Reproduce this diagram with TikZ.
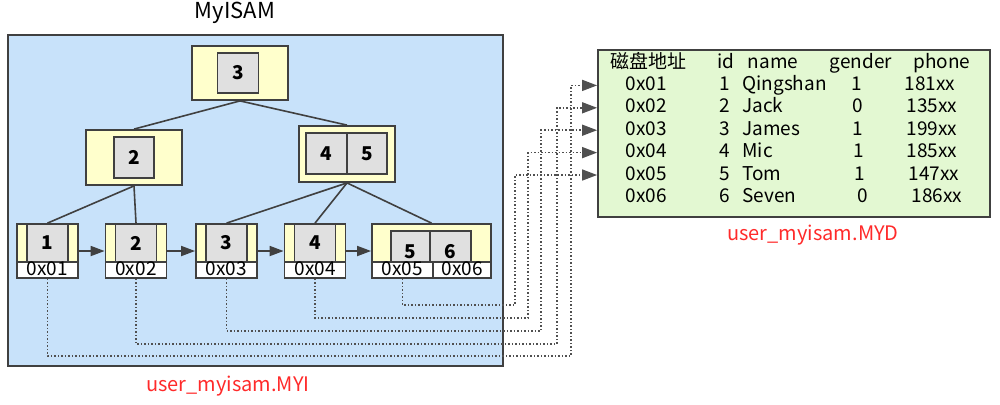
\documentclass[tikz,border=0pt]{standalone}
\usepackage{fontspec}
\setmainfont{Noto Sans CJK SC}
\usetikzlibrary{arrows.meta}
\definecolor{idxblue}{HTML}{C8E2FA}
\definecolor{pageyellow}{HTML}{FFFFCC}
\definecolor{keygray}{HTML}{E0E0E0}
\definecolor{mydgreen}{HTML}{E3F8D2}
\definecolor{edgegray}{HTML}{404040}
\definecolor{ptrgray}{HTML}{505050}
\definecolor{filered}{HTML}{FF2A2A}
\tikzset{
  frame/.style={draw=edgegray, line width=0.9pt, inner sep=0pt},
  page/.style={frame, fill=pageyellow},
  key/.style={frame, fill=keygray, font=\bfseries\fontsize{9.5}{10}\selectfont},
  addr/.style={frame, fill=white, font=\fontsize{9.5}{9}\selectfont, text height=6pt, text depth=1pt},
  cell/.style={inner sep=0pt, font=\fontsize{9.5}{10}\selectfont, text height=7pt, text depth=2pt},
  link/.style={draw=edgegray, line width=0.8pt},
  next/.style={draw=edgegray, line width=0.9pt, -{Triangle[length=7pt,width=5pt]}},
  ptr/.style={draw=ptrgray, line width=0.75pt, dash pattern=on 0.75pt off 1pt,
    -{Triangle[length=7.5pt,width=5.5pt]}},
  filename/.style={text=filered, font=\fontsize{10}{12}\selectfont}
}
\begin{document}
\begin{tikzpicture}[x=0.5pt,y=-0.5pt]
  \useasboundingbox (0,0) rectangle (1000,404);
  \node[font=\fontsize{11}{12}\selectfont] (title) at (235,13) {MyISAM};
  \node[frame, line width=1.1pt, fill=idxblue, minimum width=247.5pt, minimum height=165.5pt] (myi) at (255.5,200.5) {};
  \node[page, minimum width=48pt, minimum height=27pt] (p3) at (240,73) {};
  \node[key, minimum width=20.5pt, minimum height=20pt] (k3) at (238,73) {3};
  \node[page, minimum width=48pt, minimum height=27.5pt] (p2) at (134,157.5) {};
  \node[key, minimum width=20pt, minimum height=20.5pt] (k2) at (134,157.5) {2};
  \node[page, minimum width=48pt, minimum height=28pt] (p45) at (347,154) {};
  \node[key, minimum width=20.5pt, minimum height=20.5pt] (k4) at (326.5,153.5) {4};
  \node[key, minimum width=20pt, minimum height=20.5pt] (k5) at (367,153.5) {5};
  \foreach \n/\x in {1/47.5, 2/136, 3/226.5, 4/315} {
    \node[page, minimum width=30.5pt, minimum height=27pt] (leaf\n) at (\x,251) {};
    \node[key, minimum width=20.5pt, minimum height=19pt] (lk\n) at (\x,243) {\n};
    \node[addr, minimum width=30.5pt, minimum height=8pt] (la\n) at (\x,270) {0x0\n};
  }
  \node[page, minimum width=59.5pt, minimum height=27pt] (leaf5) at (431.5,251) {};
  \node[key, minimum width=19.5pt, minimum height=15.5pt, text height=12pt, text depth=0pt] (lk5) at (410.5,246.5) {5};
  \node[key, minimum width=20.5pt, minimum height=15.5pt, text height=12pt, text depth=0pt] (lk6) at (450.5,246.5) {6};
  \node[addr, minimum width=30.5pt, minimum height=8pt] (la5) at (402.5,270) {0x05};
  \node[addr, minimum width=29pt, minimum height=8pt] (la6) at (462,270) {0x06};
  \begin{scope}[link]
    \draw (p3.south) to (p2.north);
    \draw (p3.south) to (p45.north);
    \draw (p2.south) to (leaf1.north);
    \draw (p2.south) to (leaf2.north);
    \draw (p45.south) to (leaf3.north);
    \draw (p45.south) to (leaf4.north);
    \draw (p45.south) to (leaf5.north);
  \end{scope}
  \begin{scope}[next]
    \draw (leaf1.east) to (leaf2.west);
    \draw (leaf2.east) to (leaf3.west);
    \draw (leaf3.east) to (leaf4.west);
    \draw (leaf4.east) to (leaf5.west);
  \end{scope}
  \node[filename] (myiname) at (228,386) {user\_myisam.MYI};
  \node[frame, fill=mydgreen, minimum width=196pt, minimum height=83.5pt] (myd) at (794,133.5) {};
  \node[cell] (h1) at (648,63) {磁盘地址};
  \node[cell] (h2) at (726,63) {id};
  \node[cell] (h3) at (773,63) {name};
  \node[cell] (h4) at (861,63) {gender};
  \node[cell] (h5) at (942,63) {phone};
  \foreach \n/\name/\g/\gx/\p/\px in {1/Qingshan/1/857/181xx/930, 2/Jack/0/858/135xx/932,
      3/James/1/858/199xx/932, 4/Mic/1/859/185xx/932, 5/Tom/1/860/147xx/934, 6/Seven/0/863/186xx/937} {
    \node[cell] (a\n) at (646,{63+22.4*\n}) {0x0\n};
    \node[cell, anchor=east] (i\n) at (730,{63+22.4*\n}) {\n};
    \node[cell, anchor=west] (n\n) at (742,{63+22.4*\n}) {\name};
    \node[cell] (g\n) at (\gx,{63+22.4*\n}) {\g};
    \node[cell] (t\n) at (\px,{63+22.4*\n}) {\p};
  }
  \node[filename] (mydname) at (813,235) {user\_myisam.MYD};
  \foreach \n/\bx/\by in {1/571/356, 2/557/344, 3/541/331, 4/528/318, 5/515/305}
    \draw[ptr] (la\n.south) |- (\bx,\by) |- (myd.west |- a\n);
\end{tikzpicture}
\end{document}
